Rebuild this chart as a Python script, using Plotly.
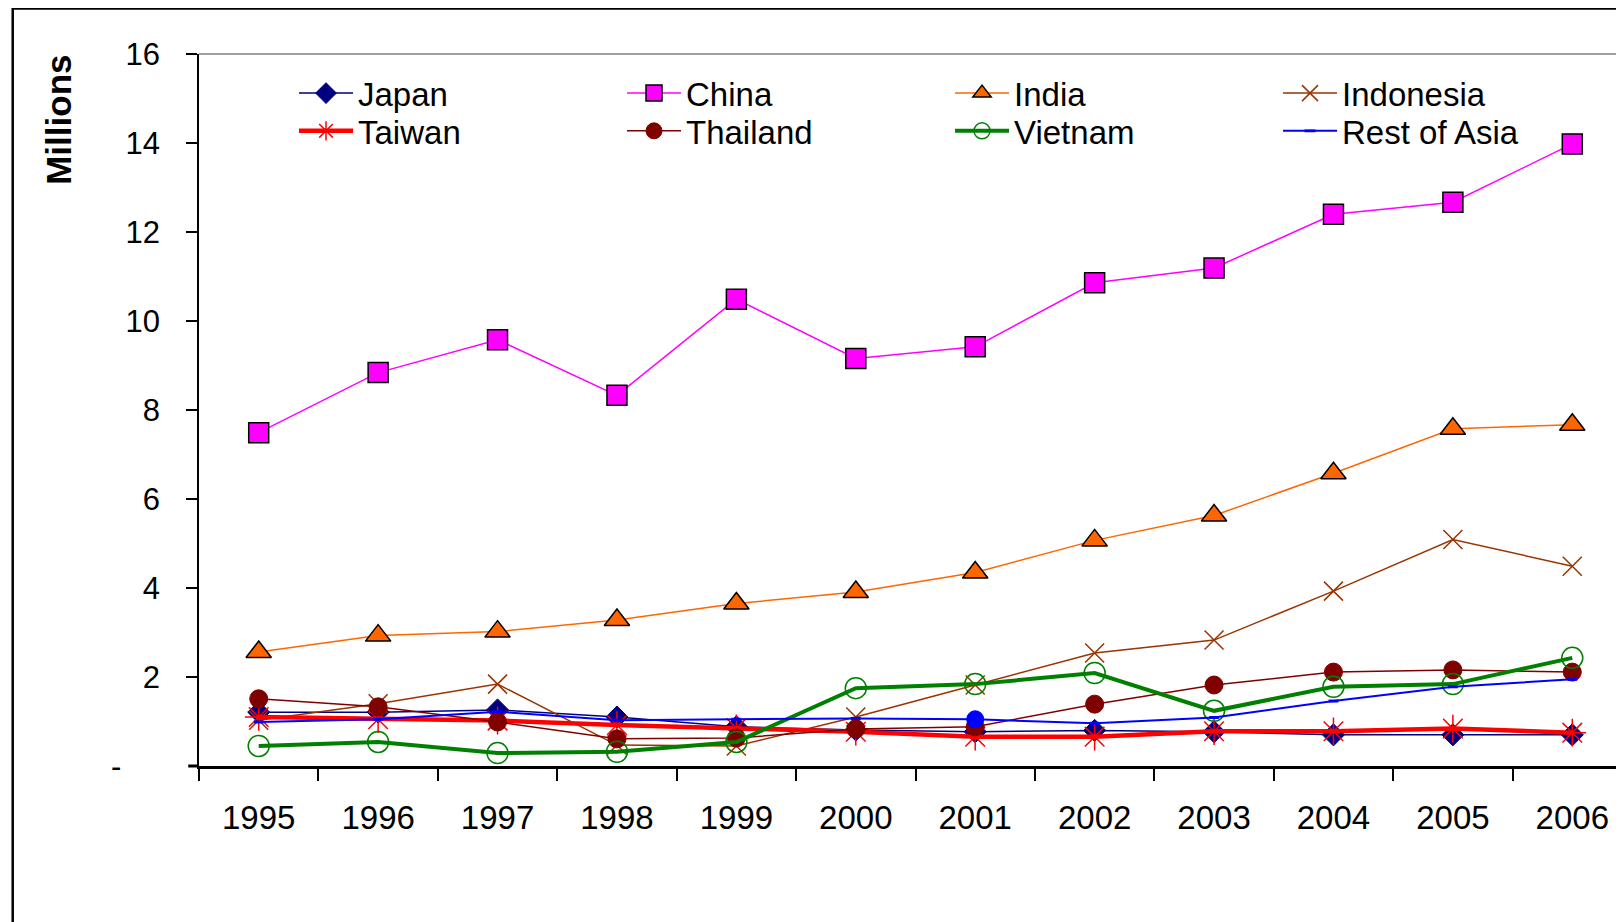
import plotly.graph_objects as go

years = ['1995', '1996', '1997', '1998', '1999', '2000',
         '2001', '2002', '2003', '2004', '2005', '2006']

japan = [1.21, 1.21, 1.26, 1.10, 0.88, 0.81, 0.77, 0.80, 0.77, 0.70, 0.70, 0.70]
china = [7.49, 8.84, 9.58, 8.33, 10.49, 9.16, 9.42, 10.86, 11.19, 12.40, 12.67, 13.98]
india = [2.56, 2.93, 3.02, 3.28, 3.65, 3.91, 4.35, 5.07, 5.63, 6.58, 7.58, 7.67]
indonesia = [1.03, 1.40, 1.84, 0.47, 0.45, 1.10, 1.82, 2.54, 2.83, 3.93, 5.09, 4.49]
taiwan = [1.10, 1.05, 1.02, 0.92, 0.85, 0.77, 0.66, 0.66, 0.78, 0.78, 0.84, 0.75]
thailand = [1.51, 1.33, 0.99, 0.61, 0.63, 0.83, 0.88, 1.39, 1.82, 2.11, 2.16, 2.11]
vietnam = [0.45, 0.54, 0.29, 0.32, 0.54, 1.75, 1.84, 2.09, 1.24, 1.78, 1.84, 2.43]
rest_of_asia = [0.99, 1.05, 1.22, 1.03, 1.05, 1.07, 1.05, 0.96, 1.09, 1.46, 1.78, 1.95]

y_ticks = [2, 4, 6, 8, 10, 12, 14, 16]

FONT = "Liberation Sans, Arial, sans-serif"

fig = go.Figure()


def add_series(name, values, line_color, line_width, symbol, size,
               fill, outline, outline_width, legend):
    fig.add_trace(go.Scatter(
        x=years, y=values, name=name, mode='lines+markers', legend=legend,
        line=dict(color=line_color, width=line_width),
        marker=dict(symbol=symbol, size=size, color=fill,
                    line=dict(color=outline, width=outline_width))
    ))


# first legend row
add_series('Japan', japan, '#000080', 1.5, 'diamond', 17, '#000080', '#000080', 1, 'legend')
add_series('China', china, '#FF00FF', 1.5, 'square', 20, '#FF00FF', '#000000', 1.5, 'legend')
add_series('India', india, '#FF6600', 1.5, 'triangle-up', 22, '#FF6600', '#000000', 1.5, 'legend')
add_series('Indonesia', indonesia, '#993300', 1.5, 'x-thin-open', 19, '#993300', '#993300', 1.5, 'legend')
# second legend row
add_series('Taiwan', taiwan, '#FF0000', 4.5, 'asterisk-open', 23, '#FF0000', '#FF0000', 1.5, 'legend2')
add_series('Thailand', thailand, '#800000', 1.5, 'circle', 18, '#800000', '#800000', 1, 'legend2')
add_series('Vietnam', vietnam, '#008000', 4, 'circle-open', 21, '#008000', '#008000', 1.5, 'legend2')

# Rest of Asia: small dash markers, one stray large dot at 2001
roa_symbols = ['line-ew-open'] * len(years)
roa_sizes = [7] * len(years)
roa_widths = [3] * len(years)
roa_symbols[6] = 'circle'
roa_sizes[6] = 17
roa_widths[6] = 1
fig.add_trace(go.Scatter(
    x=years, y=rest_of_asia, name='Rest of Asia', mode='lines+markers',
    legend='legend2',
    line=dict(color='#0000FF', width=2),
    marker=dict(symbol=roa_symbols, size=roa_sizes, color='#0000FF',
                opacity=1, line=dict(color='#0000FF', width=roa_widths))
))

legend_style = dict(
    orientation='h', x=0.0663, xanchor='left', yanchor='middle',
    entrywidth=259, itemwidth=54, font=dict(size=33),
    bgcolor='rgba(0,0,0,0)', itemsizing='trace', valign='middle'
)

fig.update_layout(
    width=1624, height=922,
    paper_bgcolor='white', plot_bgcolor='white',
    margin=dict(l=191, r=0, t=46, b=164),
    font=dict(family=FONT, size=31, color='black'),
    showlegend=True,
    legend=dict(legend_style, y=0.945),
    legend2=dict(legend_style, y=0.892),
    xaxis=dict(
        type='category', range=[-0.5, 11.5], tickson='boundaries',
        ticks='outside', ticklen=12, tickwidth=1.5, tickcolor='black',
        showline=True, linecolor='black', linewidth=3, showgrid=False,
        tickfont=dict(size=33), ticklabelstandoff=20
    ),
    yaxis=dict(
        range=[0, 16], tickvals=y_ticks, ticks='outside', ticklen=11,
        tickwidth=1.5, tickcolor='black', showline=True, linecolor='black',
        linewidth=1.5, showgrid=False, zeroline=False, tickfont=dict(size=31),
        ticklabelstandoff=20
    ),
    shapes=[
        # outer chart border
        dict(type='rect', xref='paper', yref='paper', x0=-0.130, x1=1.2,
             y0=-0.4, y1=1.064, line=dict(color='black', width=2.5)),
        # top of plot area
        dict(type='line', xref='paper', yref='paper', x0=0, x1=1, y0=1, y1=1,
             line=dict(color='#808080', width=1.5)),
        # x axis line running past the value axis
        dict(type='line', xref='paper', yref='paper', x0=-0.0075, x1=0,
             y0=0, y1=0, line=dict(color='black', width=3)),
    ],
    annotations=[
        dict(text='<b>Millions</b>', xref='paper', yref='paper', x=-0.098,
             y=0.907, xanchor='center', yanchor='middle', textangle=-90,
             showarrow=False, font=dict(size=35)),
        dict(text='-', xref='paper', yref='paper', x=-0.058, y=0.0,
             xanchor='center', yanchor='middle', showarrow=False,
             font=dict(size=31)),
    ]
)

fig.write_html("out.html")
